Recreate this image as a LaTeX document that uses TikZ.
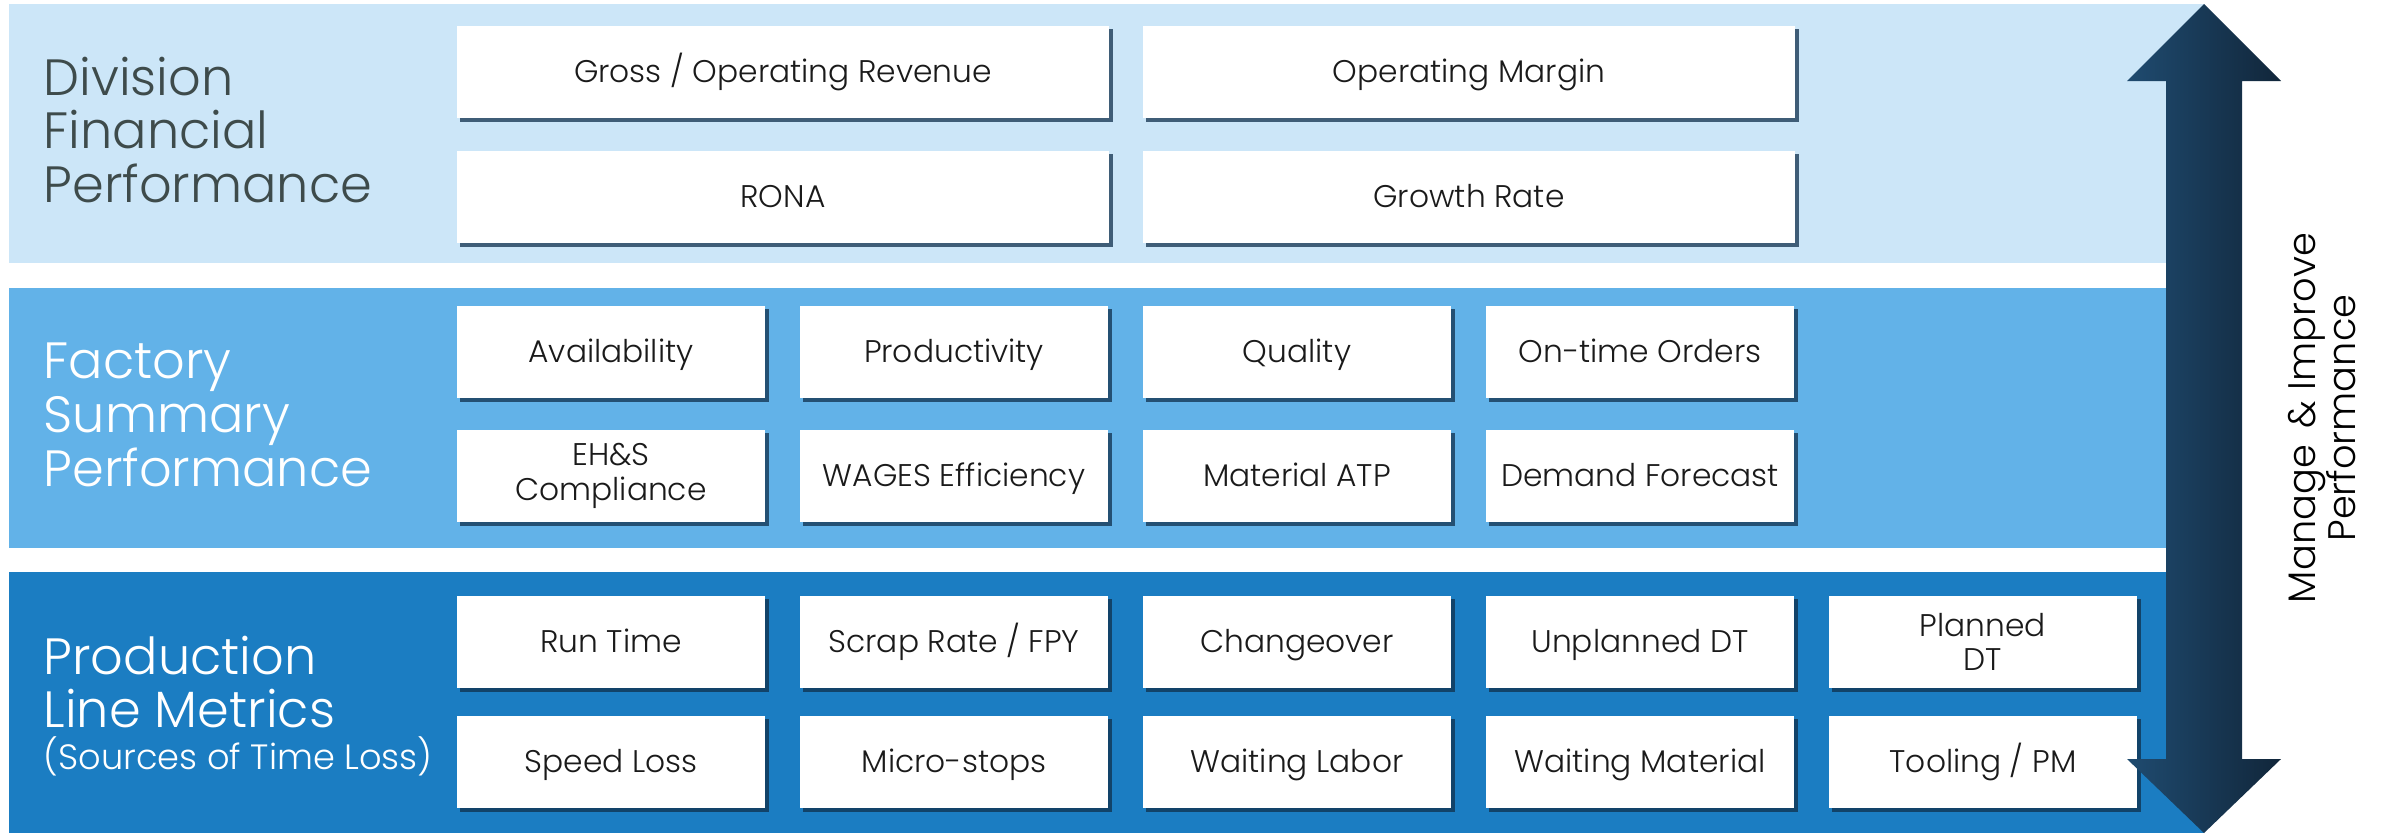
\documentclass[tikz,border=0pt]{standalone}
\usepackage{fontspec}
\setmainfont{Poppins}[UprightFont=* Light]
\usetikzlibrary{shadows}

\definecolor{bandtop}{HTML}{CCE6F8}
\definecolor{bandmid}{HTML}{62B2E8}
\definecolor{bandlow}{HTML}{1B7DC2}
\definecolor{labelgrey}{HTML}{3E4B4B}
\definecolor{boxtext}{HTML}{1A1A1A}
\definecolor{shadowblue}{HTML}{10304C}
\definecolor{arrowleft}{HTML}{1F4B70}
\definecolor{arrowright}{HTML}{11263A}

\tikzset{
  metrictwo/.style={fill=white, minimum width=3.08cm, minimum height=0.92cm, inner sep=0pt,
    align=center, text=boxtext, font=\fontsize{8.9}{9.8}\selectfont,
    drop shadow={shadow xshift=0.035cm, shadow yshift=-0.035cm, fill=shadowblue, opacity=0.75}},
  metric/.style={metrictwo, text height=6.2pt, text depth=0pt},
  widemetric/.style={metric, minimum width=6.52cm},
  bandlabel/.style={anchor=west, align=left, inner sep=0pt, font=\fontsize{14.5}{15.3}\selectfont},
}

\begin{document}
\begin{tikzpicture}[x=0.01cm, y=-0.01cm]
\useasboundingbox (0,0) rectangle (2382,833);

% three bands
\fill[bandtop] (9,4) rectangle (2204,263);
\fill[bandmid] (9,288) rectangle (2204,548);
\fill[bandlow] (9,572) rectangle (2204,833);

% band titles
\node[bandlabel, text=labelgrey] (divlabel) at (43,130) {Division\\Financial\\Performance};
\node[bandlabel, text=white] (faclabel) at (43,415) {Factory\\Summary\\Performance};
\node[bandlabel, text=white] (prodlabel) at (43,706) {Production\\Line Metrics\\[-3.4pt]{\fontsize{10}{12}\selectfont (Sources of Time Loss)}};

% division financial performance
\node[widemetric] (revenue) at (783,72) {Gross / Operating Revenue};
\node[widemetric] (margin) at (1469,72) {Operating Margin};
\node[widemetric] (rona) at (783,197) {RONA};
\node[widemetric] (growth) at (1469,197) {Growth Rate};

% factory summary performance
\node[metric] (avail) at (611,352) {Availability};
\node[metric] (prodty) at (954,352) {Productivity};
\node[metric] (quality) at (1297,352) {Quality};
\node[metric] (ontime) at (1640,352) {On-time Orders};
\node[metrictwo] (ehs) at (611,476) {EH\&S\\Compliance};
\node[metric] (wages) at (954,476) {WAGES Efficiency};
\node[metric] (atp) at (1297,476) {Material ATP};
\node[metric] (forecast) at (1640,476) {Demand Forecast};

% production line metrics
\node[metric] (runtime) at (611,642) {Run Time};
\node[metric] (scrap) at (954,642) {Scrap Rate / FPY};
\node[metric] (changeover) at (1297,642) {Changeover};
\node[metric] (unplanned) at (1640,642) {Unplanned DT};
\node[metrictwo] (planned) at (1983,642) {Planned\\DT};
\node[metric] (speed) at (611,762) {Speed Loss};
\node[metric] (micro) at (954,762) {Micro-stops};
\node[metric] (labor) at (1297,762) {Waiting Labor};
\node[metric] (material) at (1640,762) {Waiting Material};
\node[metric] (tooling) at (1983,762) {Tooling / PM};

% double arrow
\shade[left color=arrowleft, right color=arrowright]
  (2204,4) -- (2281,81) -- (2242,81) -- (2242,759) -- (2281,759) -- (2204,833)
  -- (2127,759) -- (2166,759) -- (2166,81) -- (2127,81) -- cycle;
\node[rotate=90, align=center, inner sep=0pt, text=black, font=\fontsize{10.9}{11.3}\selectfont] (improve) at (2322,418) {Manage \,\& Improve\\Performance};
\end{tikzpicture}
\end{document}
